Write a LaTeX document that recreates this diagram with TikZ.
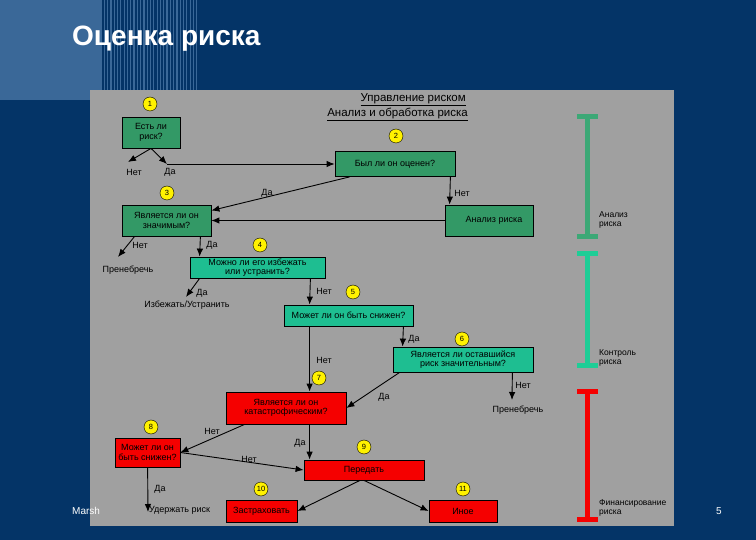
\documentclass[tikz,border=0pt]{standalone}
\usepackage{fontspec}
\setmainfont{Liberation Sans}
\usetikzlibrary{arrows.meta}
\definecolor{navy}{RGB}{4,52,103}
\definecolor{paleblue}{RGB}{58,104,152}
\definecolor{panel}{RGB}{160,160,160}
\definecolor{grn}{RGB}{51,153,102}
\definecolor{tel}{RGB}{30,190,145}
\definecolor{telbar}{RGB}{30,205,150}
\definecolor{grnbar}{RGB}{60,168,118}
\definecolor{rd}{RGB}{245,0,0}
\begin{document}
\begin{tikzpicture}[x=1pt,y=-1pt,
  >={Latex[length=8pt,width=6.5pt]},
  box/.style={draw=black,line width=0.8pt,inner sep=0pt,align=center,font=\fontsize{9}{9.5}\selectfont},
  num/.style={circle,draw=black,line width=0.4pt,fill=yellow,inner sep=0pt,minimum size=14pt,font=\fontsize{7.5}{7.5}\selectfont},
  lbl/.style={font=\fontsize{9}{10}\selectfont,inner sep=0pt},
  arr/.style={->,line width=0.9pt},
  bar/.style={line width=5pt}]
\useasboundingbox (0,0) rectangle (756,540);
\fill[navy] (0,0) rectangle (756,540);
\fill[paleblue] (0,0) rectangle (100,100);
\foreach \x in {101,104.3,...,198} \draw[paleblue,line width=1.2pt] (\x,0) -- (\x,90);
\fill[panel] (90,90) rectangle (674,526);
\node[anchor=base west,text=white,font=\fontsize{28}{30}\bfseries\selectfont,inner sep=0pt] (title) at (72,46) {Оценка риска};
\node[anchor=base west,text=white,font=\fontsize{10}{12}\selectfont,inner sep=0pt] (firm) at (72,514) {Marsh};
\node[anchor=base,text=white,font=\fontsize{10}{12}\selectfont,inner sep=0pt] (page) at (719,514) {5};

\node[anchor=east,lbl,font=\fontsize{11.5}{12}\selectfont] (h1) at (466,100) {\underline{Управление риском}};
\node[anchor=east,lbl,font=\fontsize{11.5}{12}\selectfont] (h2) at (468,114) {\underline{Анализ и обработка риска}};

\node[box,fill=grn,minimum width=58pt,minimum height=31pt] (b1) at (151,132.5) {Есть ли\\риск?};
\node[box,fill=grn,minimum width=120pt,minimum height=25pt] (b2) at (395,164) {Был ли он оценен?};
\node[box,fill=grn,minimum width=89pt,minimum height=31pt] (b3) at (166.5,220.5) {Является ли он\\значимым?};
\node[box,fill=grn,minimum width=88pt,minimum height=31pt] (bA) at (489,220.5) {\hspace*{10pt}Анализ риска};
\node[box,fill=tel,minimum width=135pt,minimum height=21pt] (b4) at (257.5,267.5) {Можно ли его избежать\\или устранить?};
\node[box,fill=tel,minimum width=129pt,minimum height=21pt] (b5) at (348.5,315.5) {Может ли он быть снижен?};
\node[box,fill=tel,minimum width=140pt,minimum height=25pt] (b6) at (463,359.5) {Является ли оставшийся\\риск значительным?};
\node[box,fill=rd,minimum width=120pt,minimum height=32pt] (b7) at (286,408) {Является ли он\\катастрофическим?};
\node[box,fill=rd,minimum width=65pt,minimum height=29pt] (b8) at (147.5,452.5) {Может ли он\\быть снижен?};
\node[box,fill=rd,minimum width=120pt,minimum height=20pt] (b9) at (364,470) {Передать};
\node[box,fill=rd,minimum width=71pt,minimum height=22pt] (b10) at (261.5,511) {Застраховать};
\node[box,fill=rd,minimum width=68pt,minimum height=22pt] (b11) at (463,511) {Иное};

\node[num] (c1) at (150,104) {1};
\node[num] (c2) at (396,136) {2};
\node[num] (c3) at (167,193) {3};
\node[num] (c4) at (260,245) {4};
\node[num] (c5) at (353,292) {5};
\node[num] (c6) at (462,339) {6};
\node[num] (c7) at (319,378) {7};
\node[num] (c8) at (151,427) {8};
\node[num] (c9) at (364,447) {9};
\node[num] (c10) at (261,489) {10};
\node[num] (c11) at (463,489) {11};

\coordinate (no1) at (128,162);
\coordinate (yes1) at (167,164);
\coordinate (no3) at (118,257);
\coordinate (yes4) at (186,297);
\coordinate (no6) at (512,400);
\coordinate (yes8) at (148,512);

\draw[arr] (b1.south) -- (no1);
\draw[arr] (b1.south) -- (yes1);
\draw[arr] (yes1) -- (b2.west);
\draw[arr] ([xshift=15pt]b2.south west) -- ([yshift=10pt]b3.east);
\draw[arr] ([xshift=-5pt]b2.south east) -- ([xshift=5pt]bA.north west);
\draw[arr] (bA.west) -- (b3.east);
\draw[arr] ([xshift=13pt]b3.south west) -- (no3);
\draw[arr] ([xshift=-11pt]b3.south east) -- ([xshift=10pt]b4.north west);
\draw[arr] ([xshift=10pt]b4.south west) -- (yes4);
\draw[arr] ([xshift=-15pt]b4.south east) -- ([xshift=26pt]b5.north west);
\draw[arr] ([xshift=26pt]b5.south west) -- ([xshift=84pt]b7.north west);
\draw[arr] ([xshift=-10pt]b5.south east) -- ([xshift=10pt]b6.north west);
\draw[arr] ([xshift=-21pt]b6.south east) -- (no6);
\draw[arr] ([xshift=7pt]b6.south west) -- (b7.east);
\draw[arr] ([xshift=19pt]b7.south west) -- (b8.east);
\draw[arr] ([xshift=84pt]b7.south west) -- ([xshift=6pt]b9.north west);
\draw[arr] (b8.east) -- (b9.west);
\draw[arr] ([xshift=33pt]b8.south west) -- (yes8);
\draw[arr] ([xshift=-4pt]b9.south) -- (b10.east);
\draw[arr] (b9.south) -- (b11.west);

\node[lbl] (t1) at (134,172) {Нет};
\node[lbl] (t2) at (170,172) {Да};
\node[lbl] (t3) at (267,193) {Да};
\node[lbl] (t4) at (462,193) {Нет};
\node[lbl] (t5) at (140,245) {Нет};
\node[lbl] (t6) at (212,245) {Да};
\node[lbl] (t7) at (202,293) {Да};
\node[lbl] (t8) at (324,291) {Нет};
\node[lbl] (t9) at (324,360) {Нет};
\node[lbl] (t10) at (414,339) {Да};
\node[lbl] (t11) at (523,385) {Нет};
\node[lbl] (t12) at (384,397) {Да};
\node[lbl] (t13) at (212,431) {Нет};
\node[lbl] (t14) at (300,443) {Да};
\node[lbl] (t15) at (249,459) {Нет};
\node[lbl] (t16) at (160,489) {Да};
\node[lbl] (e1) at (128,270) {Пренебречь};
\node[lbl] (e2) at (187,305) {Избежать/Устранить};
\node[lbl] (e3) at (518,410) {Пренебречь};
\node[lbl,anchor=west] (e4) at (149,510) {Удержать риск};

\draw[bar,grnbar] (587,117) -- (587,237) (577,117) -- (598,117) (577,237) -- (598,237);
\draw[bar,telbar] (587,254) -- (587,366) (577,254) -- (598,254) (577,366) -- (598,366);
\draw[bar,rd] (587,392) -- (587,519) (577,392) -- (598,392) (577,519) -- (598,519);
\node[lbl,anchor=west,align=left,font=\fontsize{8.5}{9.5}\selectfont] (s1) at (599,220) {Анализ\\риска};
\node[lbl,anchor=west,align=left,font=\fontsize{8.5}{9.5}\selectfont] (s2) at (599,358) {Контроль\\риска};
\node[lbl,anchor=west,align=left,font=\fontsize{8.5}{9.5}\selectfont] (s3) at (599,508) {Финансирование\\риска};
\end{tikzpicture}
\end{document}
